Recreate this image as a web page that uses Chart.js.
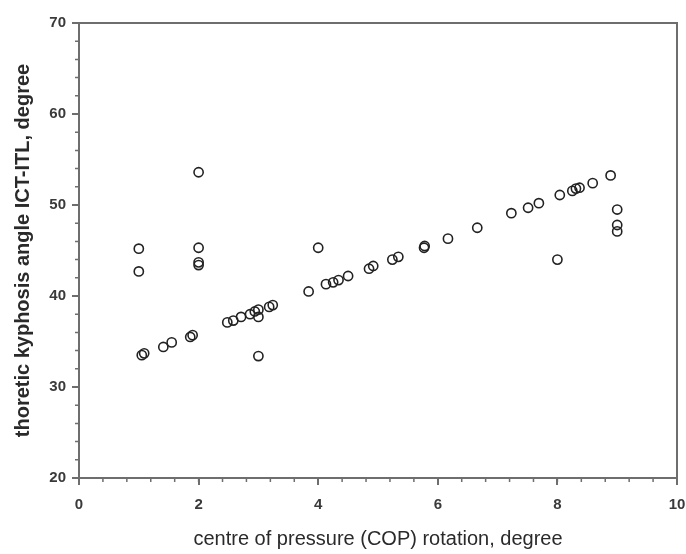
<!DOCTYPE html>
<html>
<head>
	<meta charset="utf-8">
	<script src="https://cdn.jsdelivr.net/npm/chart.js@4.4.0/dist/chart.umd.min.js"></script>
	<style>
		body{margin:0;background:#fff;}
	</style>
</head>
<body>
	<canvas id="scatterChart" width="686" height="554"></canvas>
</body>
</html>
<script>
	// values
	var copRotation = [1.0, 1.0, 2.0, 2.0, 2.0, 2.0, 1.05, 1.09, 1.41, 1.55, 1.86, 1.90, 2.48, 2.58, 2.71, 2.86, 2.94, 3.0, 3.0, 3.0, 3.18, 3.24, 3.84, 4.0, 4.13, 4.25, 4.34, 4.5, 4.85, 4.92, 5.24, 5.34, 5.77, 5.78, 6.17, 6.66, 7.23, 7.51, 7.69, 8.04, 8.25, 8.31, 8.37, 8.59, 8.89, 9.0, 9.0, 9.0, 8.0];
	var kyphosisAngle = [45.2, 42.7, 53.6, 45.3, 43.4, 43.7, 33.5, 33.7, 34.4, 34.9, 35.5, 35.7, 37.1, 37.3, 37.7, 38.0, 38.3, 38.5, 37.7, 33.4, 38.8, 39.0, 40.5, 45.3, 41.3, 41.5, 41.75, 42.2, 43.0, 43.3, 44.0, 44.3, 45.3, 45.5, 46.3, 47.5, 49.1, 49.7, 50.2, 51.1, 51.55, 51.8, 51.9, 52.4, 53.25, 49.5, 47.8, 47.1, 44.0];
	var xTickLabels = [0, 2, 4, 6, 8, 10];
	var yTickLabels = [20, 30, 40, 50, 60, 70];
	var xTitle = "centre of pressure (COP) rotation, degree";
	var yTitle = "thoretic kyphosis angle ICT-ITL, degree";

	var axisColor = "#6e6e6e";
	var points = [];
	for(var i = 0;i<copRotation.length;i++){
		points.push({x:copRotation[i],y:kyphosisAngle[i]});
	}

	// box round the plot and the short minor ticks
	var framePlugin = {
		id:"frame",
		afterDraw:function(chart){
			var ctx = chart.ctx;
			var area = chart.chartArea;
			var xs = chart.scales.x;
			var ys = chart.scales.y;
			ctx.save();
			ctx.strokeStyle = axisColor;
			ctx.lineWidth = 2;
			ctx.strokeRect(area.left,area.top,area.right-area.left,area.bottom-area.top);
			ctx.lineWidth = 1.5;
			ctx.beginPath();
			for(var v = xs.min;v<=xs.max;v+=0.4){
				var px = xs.getPixelForValue(v);
				ctx.moveTo(px,area.bottom);
				ctx.lineTo(px,area.bottom+4);
			}
			for(var w = ys.min;w<=ys.max;w+=2){
				var py = ys.getPixelForValue(w);
				ctx.moveTo(area.left,py);
				ctx.lineTo(area.left-4,py);
			}
			ctx.stroke();
			ctx.restore();
		}
	};

	var tickFont = {family:"Liberation Sans, Arial",size:15,weight:"bold"};

	var target = document.querySelector("#scatterChart").getContext("2d");
	var chart = new Chart(target,{
		type:"scatter",
		data:{
			datasets:[{
				data:points,
				pointStyle:"circle",
				pointRadius:4.6,
				pointBorderWidth:1.6,
				borderColor:"#222",
				backgroundColor:"rgba(0,0,0,0)"
			}]
		},
		options:{
			responsive:false,
			animation:false,
			layout:{padding:{top:23,right:9,left:0,bottom:0}},
			plugins:{legend:{display:false},tooltip:{enabled:false}},
			scales:{
				x:{
					type:"linear",
					min:0,
					max:10,
					afterBuildTicks:function(scale){
						scale.ticks = xTickLabels.map(function(v){return {value:v};});
					},
					afterFit:function(scale){
						scale.height = 76;
						scale.paddingLeft = 0;
						scale.paddingRight = 0;
					},
					grid:{drawOnChartArea:false,tickLength:7,color:axisColor,lineWidth:2},
					border:{color:axisColor,width:2},
					ticks:{color:"#3a3a3a",font:tickFont,padding:11,maxRotation:0},
					title:{
						display:true,
						text:xTitle,
						color:"#2a2a2a",
						font:{family:"Liberation Sans, Arial",size:20},
						padding:{top:0,bottom:3}
					}
				},
				y:{
					type:"linear",
					min:20,
					max:70,
					afterBuildTicks:function(scale){
						scale.ticks = yTickLabels.map(function(v){return {value:v};});
					},
					afterFit:function(scale){
						scale.width = 79;
						scale.paddingTop = 0;
						scale.paddingBottom = 0;
					},
					grid:{drawOnChartArea:false,tickLength:7,color:axisColor,lineWidth:2},
					border:{color:axisColor,width:2},
					ticks:{color:"#3a3a3a",font:tickFont,padding:6},
					title:{
						display:true,
						text:yTitle,
						color:"#2a2a2a",
						font:{family:"Liberation Sans, Arial",size:20,weight:"bold"},
						padding:{top:11,bottom:0}
					}
				}
			}
		},
		plugins:[framePlugin]
	});
</script>
